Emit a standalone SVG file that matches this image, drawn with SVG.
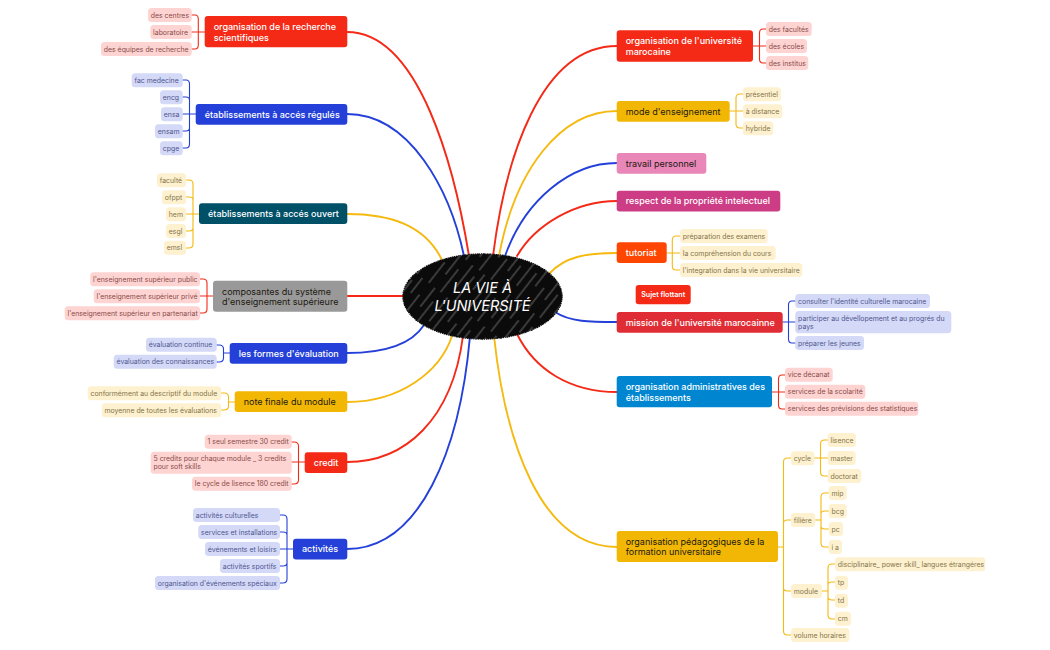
<svg xmlns="http://www.w3.org/2000/svg" width="1050" height="650" viewBox="0 0 1050 650">
<style>
text{font-family:Inter,"Noto Sans","Liberation Sans",sans-serif}
.n text{font-size:9px;font-weight:500;fill:#fff}
.n.d text{fill:#1d1a10;font-weight:400}
.n rect{rx:3px;ry:3px}
.c text{font-size:6.9px}
.c rect{rx:3.5px;ry:3.5px}
.R rect{fill:#fdd4d1}.R text{fill:#8a4a4a}
.B rect{fill:#d3d9f7}.B text{fill:#50568f}
.Y rect{fill:#fdf1cf}.Y text{fill:#85744a}
#connectors path{fill:none;stroke-linecap:round}
.mr,.mb,.my{stroke-width:1.9}
.sr,.sb,.sy{stroke-width:1.1}
.mr,.sr{stroke:#f42a17}.mb,.sb{stroke:#2440d8}.my,.sy{stroke:#f5b90f}
</style>
<defs>
<pattern id="hatch" width="47" height="41" patternUnits="userSpaceOnUse" patternTransform="rotate(38)">
<rect width="47" height="41" fill="#0b0b0b"/>
<path d="M3 0V24M10 12V41M19 0V30M27 8V41M34 0V19M42 15V41" stroke="#fff" stroke-width=".55" stroke-opacity=".7" fill="none"/>
</pattern>
</defs>
<g id="connectors">
<path class="mr" d="M347 32C420 32 455 170 469 256"/>
<path class="mb" d="M347 114C410 114 450 190 464 256"/>
<path class="my" d="M347 214C390 214 425 225 442 260"/>
<path class="mr" d="M347 296H403"/>
<path class="mb" d="M347 353C390 353 413 342 424 325"/>
<path class="my" d="M347 402C400 402 440 372 452 336"/>
<path class="mr" d="M347 462C405 462 452 420 463 336"/>
<path class="mb" d="M347 549C420 549 460 450 470 336"/>
<path class="mr" d="M617 46C540 46 505 160 493 256"/>
<path class="my" d="M617 111C560 111 515 170 499 256"/>
<path class="mb" d="M617 163C570 163 525 200 505 256"/>
<path class="mr" d="M617 201C575 201 535 225 517 256"/>
<path class="my" d="M617 253C585 253 565 257 550 273"/>
<path class="mb" d="M617 322C590 322 570 322 555 312"/>
<path class="mr" d="M617 392C570 392 535 370 517 334"/>
<path class="my" d="M617 547C540 547 505 440 494 336"/>
<path class="sr" d="M191.7 15H195Q198.3 15 198.3 19V45Q198.3 49 195 49H191.7M191.7 32H204.7"/>
<path class="sb" d="M182.7 80H186Q189.5 80 189.5 84V144Q189.5 148 186 148H182.7M182.7 97H186Q189.5 97 189.5 100M182.7 131H186Q189.5 131 189.5 128M182.7 114H195.7"/>
<path class="sy" d="M186 180H189Q193 180 193 184V244Q193 248 189 248H186M186 197H189Q193 197 193 200M186 231H189Q193 231 193 228M186 214H199"/>
<path class="sr" d="M200 279H203Q207 279 207 283V309Q207 313 203 313H200M200 296H213"/>
<path class="sb" d="M216.7 345H219Q223.5 345 223.5 349V358Q223.5 362 219 362H216.7M223.5 353H229.7"/>
<path class="sy" d="M221.3 393H224Q228.5 393 228.5 397V406Q228.5 410 224 410H221.3M228.5 402H234.7"/>
<path class="sr" d="M291.7 442H294Q298.5 442 298.5 446V480Q298.5 484 294 484H291.7M291.7 462H304.7"/>
<path class="sb" d="M280 515H283Q287 515 287 519V579Q287 583 283 583H280M280 532H283Q287 532 287 535M280 566H283Q287 566 287 563M280 549H293"/>
<path class="sr" d="M766 29H763Q759.5 29 759.5 33V59Q759.5 63 763 63H766M753 46H766"/>
<path class="sy" d="M743 94H740Q736 94 736 98V124Q736 128 740 128H743M729.7 111H743"/>
<path class="sy" d="M680 236H676Q672.3 236 672.3 240V266Q672.3 270 676 270H680M666.7 253H680"/>
<path class="sb" d="M795.3 301H792Q788.5 301 788.5 305V339Q788.5 343 792 343H795.3M782.7 322H795.3"/>
<path class="sr" d="M785 375H782Q778.5 375 778.5 379V405Q778.5 409 782 409H785M772 392H785"/>
<path class="sy" d="M791 458H787.500Q783.500 458 783.500 462V631Q783.500 635 787.500 635H791M791 520H787.500Q783.500 520 783.500 523M791 591H787.500Q783.500 591 783.500 588M778 547H783.500"/>
<path class="sy" d="M827.700 440H824.500Q820.500 440 820.500 444V472Q820.500 476 824.500 476H827.700M814.300 458H827.700"/>
<path class="sy" d="M828.700 493H825Q821 493 821 497V543Q821 547 825 547H828.700M828.700 511H825Q821 511 821 514M828.700 529H825Q821 529 821 526M815.300 520H821"/>
<path class="sy" d="M835 564H832Q828 564 828 568V615Q828 619 832 619H835M835 582H832Q828 582 828 585M835 600H832Q828 600 828 597M822 591H828"/>
</g>
<g id="root">
<ellipse cx="482.500" cy="296.500" rx="79" ry="42" fill="#0b0b0b" stroke="#0b0b0b" stroke-width="2.400" stroke-dasharray="1.400 .6 2 .5 1 .8"/>
<ellipse cx="482.500" cy="296.500" rx="79.500" ry="42.500" fill="url(#hatch)"/>
<text x="482.500" y="292.700" text-anchor="middle" font-size="14.500" font-style="italic" fill="#fff">LA VIE À</text>
<text x="482.500" y="310.500" text-anchor="middle" font-size="14.500" font-style="italic" fill="#fff">L'UNIVERSITÉ</text>
</g>
<g id="n-recherche" class="n"><rect x="204.700" y="16" width="142.600" height="31.300" fill="#f42a17"/><text x="213.700" y="30">organisation de la recherche</text><text x="213.700" y="40.500">scientifiques</text></g>
<g id="n-regules" class="n"><rect x="195.700" y="104" width="151.600" height="20.700" fill="#2440d8"/><text x="204.700" y="117.600">établissements à accés régulés</text></g>
<g id="n-ouvert" class="n"><rect x="199" y="203.300" width="148.300" height="20.700" fill="#005068"/><text x="208" y="216.900">établissements à accés ouvert</text></g>
<g id="n-composantes" class="n d"><rect x="213" y="280.700" width="134.300" height="31" fill="#999"/><text x="222" y="294.500">composantes du système</text><text x="222" y="305">d'enseignement supérieure</text></g>
<g id="n-formes" class="n"><rect x="229.700" y="343" width="117.600" height="20.700" fill="#2440d8"/><text x="238.700" y="356.600">les formes d'évaluation</text></g>
<g id="n-note" class="n d"><rect x="234.700" y="391.300" width="112.600" height="20.700" fill="#f2b705"/><text x="243.700" y="404.900">note finale du module</text></g>
<g id="n-credit" class="n"><rect x="304.700" y="452.300" width="42.600" height="20.700" fill="#f42a17"/><text x="313.700" y="465.900">credit</text></g>
<g id="n-activites" class="n"><rect x="293" y="538.700" width="54.300" height="20.700" fill="#2440d8"/><text x="302" y="552.300">activités</text></g>
<g id="n-univ" class="n"><rect x="616.700" y="30.300" width="136.300" height="31.400" fill="#f42a17"/><text x="625.700" y="44.300">organisation de l'université</text><text x="625.700" y="54.800">marocaine</text></g>
<g id="n-mode" class="n d"><rect x="616.700" y="101" width="113" height="20.700" fill="#f2b705"/><text x="625.700" y="114.600">mode d'enseignement</text></g>
<g id="n-travail" class="n d"><rect x="616.700" y="153" width="89.600" height="20.700" fill="#e887b8"/><text x="625.700" y="166.600">travail personnel</text></g>
<g id="n-respect" class="n"><rect x="616.700" y="190.700" width="163.600" height="20.700" fill="#cc3d85"/><text x="625.700" y="204.300">respect de la propriété intelectuel</text></g>
<g id="n-tutoriat" class="n"><rect x="616.700" y="242.300" width="50" height="20.700" fill="#ff4600"/><text x="625.700" y="255.900">tutoriat</text></g>
<g id="n-flottant" class="n"><rect x="635.700" y="285" width="55" height="19.300" fill="#f42a17"/><text x="663.200" y="297.300" text-anchor="middle" style="font-size:7.100px;font-weight:600">Sujet flottant</text></g>
<g id="n-mission" class="n"><rect x="616.700" y="312" width="166" height="20.700" fill="#e02d35"/><text x="625.700" y="325.600">mission de l'université marocainne</text></g>
<g id="n-admin" class="n"><rect x="616.700" y="376" width="155.300" height="31.300" fill="#0086d1"/><text x="625.700" y="390">organisation administratives des</text><text x="625.700" y="400.500">établissements</text></g>
<g id="n-peda" class="n d"><rect x="616.700" y="531" width="161.300" height="31" fill="#f2b705"/><text x="625.700" y="544.800">organisation pédagogiques de la</text><text x="625.700" y="555.300">formation universitaire</text></g>
<g id="c1" class="c R"><rect x="148" y="8" width="43.700" height="14"/><text x="150.800" y="17.500">des centres</text></g>
<g id="c2" class="c R"><rect x="150.300" y="25" width="41.400" height="14"/><text x="153.100" y="34.500">laboratoire</text></g>
<g id="c3" class="c R"><rect x="101" y="42" width="90.700" height="14"/><text x="103.800" y="51.500">des équipes de recherche</text></g>
<g id="c4" class="c B"><rect x="131.700" y="73.300" width="51" height="14"/><text x="134.500" y="82.800">fac medecine</text></g>
<g id="c5" class="c B"><rect x="160" y="90.300" width="22.700" height="14"/><text x="162.800" y="99.800">encg</text></g>
<g id="c6" class="c B"><rect x="161" y="107.300" width="21.700" height="14"/><text x="163.800" y="116.800">ensa</text></g>
<g id="c7" class="c B"><rect x="155" y="124.300" width="27.700" height="14"/><text x="157.800" y="133.800">ensam</text></g>
<g id="c8" class="c B"><rect x="160" y="141.300" width="22.700" height="14"/><text x="162.800" y="150.800">cpge</text></g>
<g id="c9" class="c Y"><rect x="157" y="173.300" width="29" height="14"/><text x="159.800" y="182.800">faculté</text></g>
<g id="c10" class="c Y"><rect x="162" y="190.300" width="24" height="14"/><text x="164.800" y="199.800">ofppt</text></g>
<g id="c11" class="c Y"><rect x="166" y="207.300" width="20" height="14"/><text x="168.800" y="216.800">hem</text></g>
<g id="c12" class="c Y"><rect x="166" y="224" width="20" height="14"/><text x="168.800" y="233.500">esgl</text></g>
<g id="c13" class="c Y"><rect x="164" y="240.700" width="22" height="14"/><text x="166.800" y="250.200">emsl</text></g>
<g id="c14" class="c R"><rect x="90.300" y="272.300" width="109.700" height="14"/><text x="93.100" y="281.800">l'enseignement supérieur public</text></g>
<g id="c15" class="c R"><rect x="93.700" y="289.300" width="106.300" height="14"/><text x="96.500" y="298.800">l'enseignement supérieur privé</text></g>
<g id="c16" class="c R"><rect x="64.700" y="306.300" width="135.300" height="14"/><text x="67.500" y="315.800">l'enseignement supérieur en partenariat</text></g>
<g id="c17" class="c B"><rect x="146" y="337.700" width="70.700" height="14"/><text x="148.800" y="347.200">évaluation continue</text></g>
<g id="c18" class="c B"><rect x="113.700" y="354.700" width="103" height="14"/><text x="116.500" y="364.200">évaluation des connaissances</text></g>
<g id="c19" class="c Y"><rect x="87.700" y="386.300" width="133.600" height="14"/><text x="90.500" y="395.800">conformément au descriptif du module</text></g>
<g id="c20" class="c Y"><rect x="101.700" y="403.300" width="119.600" height="14"/><text x="104.500" y="412.800">moyenne de toutes les évaluations</text></g>
<g id="c21" class="c R"><rect x="204.700" y="434.700" width="87" height="14"/><text x="207.500" y="444.200">1 seul semestre 30 credit</text></g>
<g id="c22" class="c R"><rect x="150.700" y="451.700" width="141" height="22"/><text x="153.500" y="461.200">5 credits pour chaque module _ 3 credits</text><text x="153.500" y="469.200">pour soft skills</text></g>
<g id="c23" class="c R"><rect x="192" y="476.700" width="99.700" height="14"/><text x="194.800" y="486.200">le cycle de lisence 180 credit</text></g>
<g id="c24" class="c B"><rect x="193" y="508" width="87" height="14"/><text x="195.800" y="517.500">activités culturelles</text></g>
<g id="c25" class="c B"><rect x="198.300" y="525" width="81.700" height="14"/><text x="201.100" y="534.500">services et installations</text></g>
<g id="c26" class="c B"><rect x="205" y="542" width="75" height="14"/><text x="207.800" y="551.500">événements et loisirs</text></g>
<g id="c27" class="c B"><rect x="220" y="559" width="60" height="14"/><text x="222.800" y="568.500">activités sportifs</text></g>
<g id="c28" class="c B"><rect x="155" y="576" width="125" height="14"/><text x="157.800" y="585.500">organisation d'événements spéciaux</text></g>
<g id="c29" class="c R"><rect x="766" y="22" width="45.700" height="14"/><text x="768.800" y="31.500">des facultés</text></g>
<g id="c30" class="c R"><rect x="766" y="39" width="41" height="14"/><text x="768.800" y="48.500">des écoles</text></g>
<g id="c31" class="c R"><rect x="766" y="56" width="42.300" height="14"/><text x="768.800" y="65.500">des institus</text></g>
<g id="c32" class="c Y"><rect x="743" y="87.300" width="38" height="14"/><text x="745.800" y="96.800">présentiel</text></g>
<g id="c33" class="c Y"><rect x="743" y="104.300" width="39.300" height="14"/><text x="745.800" y="113.800">à distance</text></g>
<g id="c34" class="c Y"><rect x="743" y="121.300" width="30.300" height="14"/><text x="745.800" y="130.800">hybride</text></g>
<g id="c35" class="c Y"><rect x="680" y="229" width="87.700" height="14"/><text x="682.800" y="238.500">préparation des examens</text></g>
<g id="c36" class="c Y"><rect x="680" y="246" width="95.700" height="14"/><text x="682.800" y="255.500">la compréhension du cours</text></g>
<g id="c37" class="c Y"><rect x="680" y="263" width="122.300" height="14"/><text x="682.800" y="272.500">l'integration dans la vie universitaire</text></g>
<g id="c38" class="c B"><rect x="795.300" y="294" width="134.700" height="14"/><text x="798.100" y="303.500">consulter l'identité culturelle marocaine</text></g>
<g id="c39" class="c B"><rect x="795.300" y="311" width="156" height="22.300"/><text x="798.100" y="320.500">participer au dévellopement et au progrés du</text><text x="798.100" y="328.700">pays</text></g>
<g id="c40" class="c B"><rect x="795.300" y="336" width="68.700" height="14"/><text x="798.100" y="345.500">préparer les jeunes</text></g>
<g id="c41" class="c R"><rect x="785" y="367.700" width="47.700" height="14"/><text x="787.800" y="377.200">vice décanat</text></g>
<g id="c42" class="c R"><rect x="785" y="384.700" width="80.300" height="14"/><text x="787.800" y="394.200">services de la scolarité</text></g>
<g id="c43" class="c R"><rect x="785" y="401.700" width="133.300" height="14"/><text x="787.800" y="411.200">services des prévisions des statistiques</text></g>
<g id="c44" class="c Y"><rect x="791" y="451.300" width="23.300" height="14"/><text x="793.800" y="460.800">cycle</text></g>
<g id="c45" class="c Y"><rect x="791" y="513" width="24.300" height="14"/><text x="793.800" y="522.500">filière</text></g>
<g id="c46" class="c Y"><rect x="791" y="584" width="31" height="14"/><text x="793.800" y="593.500">module</text></g>
<g id="c47" class="c Y"><rect x="791" y="628" width="58.300" height="14"/><text x="793.800" y="637.500">volume horaires</text></g>
<g id="c48" class="c Y"><rect x="827.700" y="433" width="28.300" height="14"/><text x="830.500" y="442.500">lisence</text></g>
<g id="c49" class="c Y"><rect x="827.700" y="451" width="28" height="14"/><text x="830.500" y="460.500">master</text></g>
<g id="c50" class="c Y"><rect x="827.700" y="469" width="33.600" height="14"/><text x="830.500" y="478.500">doctorat</text></g>
<g id="c51" class="c Y"><rect x="828.700" y="486" width="18" height="14"/><text x="831.500" y="495.500">mip</text></g>
<g id="c52" class="c Y"><rect x="828.700" y="504" width="18" height="14"/><text x="831.500" y="513.500">bcg</text></g>
<g id="c53" class="c Y"><rect x="828.700" y="522" width="14.300" height="14"/><text x="831.500" y="531.500">pc</text></g>
<g id="c54" class="c Y"><rect x="828.700" y="540" width="13.300" height="14"/><text x="831.500" y="549.500">i a</text></g>
<g id="c55" class="c Y"><rect x="835" y="557.300" width="150.300" height="14"/><text x="837.800" y="566.800">disciplinaire_ power skill_ langues étrangéres</text></g>
<g id="c56" class="c Y"><rect x="835" y="575.700" width="13" height="14"/><text x="837.800" y="585.200">tp</text></g>
<g id="c57" class="c Y"><rect x="835" y="593.700" width="13" height="14"/><text x="837.800" y="603.200">td</text></g>
<g id="c58" class="c Y"><rect x="835" y="611.700" width="16" height="14"/><text x="837.800" y="621.200">cm</text></g>
</svg>
